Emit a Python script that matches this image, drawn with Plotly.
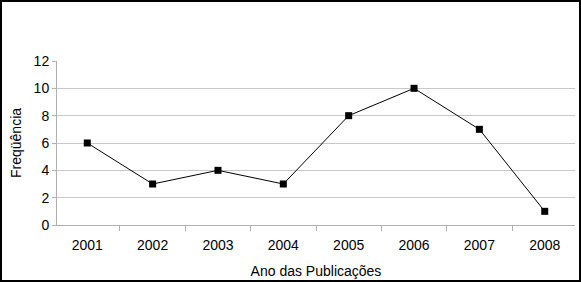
import plotly.graph_objects as go

years = ["2001", "2002", "2003", "2004", "2005", "2006", "2007", "2008"]
freq = [6, 3, 4, 3, 8, 10, 7, 1]
y_ticks = [0, 2, 4, 6, 8, 10, 12]

W, H = 581, 282
L, R, T, B = 57, 6, 61, 57
pw, ph = W - L - R, H - T - B

fig = go.Figure(go.Scatter(
    x=years, y=freq, mode="lines+markers",
    line=dict(color="black", width=1),
    marker=dict(symbol="square", size=7, color="black"),
    cliponaxis=False,
))

fam = "Liberation Sans, Arial, sans-serif"
font = dict(family=fam, size=14, color="black")

fig.update_layout(
    width=W, height=H,
    margin=dict(l=L, r=R, t=T, b=B, autoexpand=False),
    paper_bgcolor="white", plot_bgcolor="white",
    showlegend=False,
    font=font,
    xaxis=dict(
        type="category", tickson="boundaries", ticks="outside", ticklen=5,
        tickcolor="#b0b0b0", showgrid=False, showline=True, linecolor="#b0b0b0",
        linewidth=1, automargin=False, ticklabelstandoff=7,
        tickfont=dict(family=fam, size=14, color="black"),
        title=dict(text="Ano das Publicações", standoff=14, font=dict(family=fam, size=14)),
    ),
    yaxis=dict(
        range=[0, 12], tickvals=y_ticks, ticks="outside", ticklen=4,
        tickcolor="#b0b0b0", showgrid=True, gridcolor="#c8c8c8", gridwidth=1,
        showline=True, linecolor="#b0b0b0", linewidth=1, zeroline=False,
        automargin=False, tickfont=dict(family=fam, size=14, color="black"),
        title=dict(text="Freqüência", standoff=8, font=dict(family=fam, size=14)),
    ),
)

fig.add_shape(
    type="rect", xref="paper", yref="paper",
    x0=(1 - L) / pw, x1=(W - 1 - L) / pw,
    y0=-(B - 1) / ph, y1=1 + (T - 1) / ph,
    line=dict(color="black", width=2),
)

fig.write_html(
    "out.html",
    config={"displayModeBar": False},
    post_script="document.body.style.margin='0';document.body.style.overflow='hidden';",
)
